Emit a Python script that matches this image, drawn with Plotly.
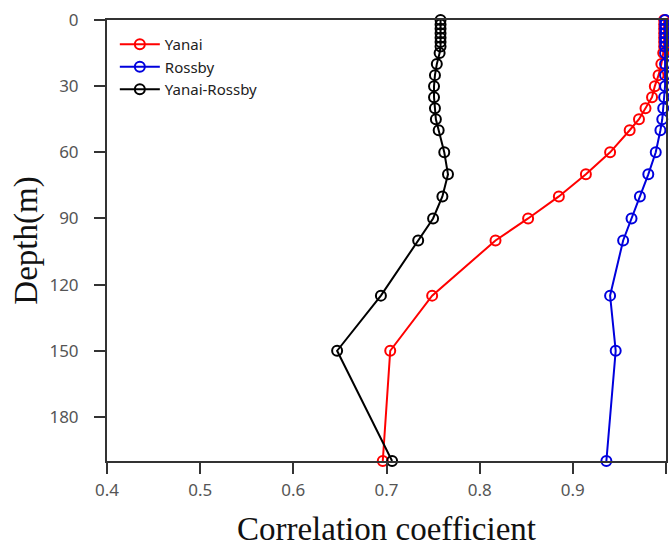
import plotly.graph_objects as go

depth = [0, 2, 4, 6, 8, 10, 12, 15, 20, 25, 30, 35, 40, 45, 50, 60, 70, 80, 90, 100, 125, 150, 200]
yanai = [0.998, 0.998, 0.998, 0.998, 0.998, 0.998, 0.998, 0.997, 0.995, 0.992, 0.988, 0.985, 0.978, 0.971, 0.961, 0.940, 0.914, 0.885, 0.852, 0.817, 0.749, 0.704, 0.696]
rossby = [0.999, 0.999, 0.999, 0.999, 0.999, 0.999, 0.999, 0.999, 0.999, 0.999, 0.999, 0.998, 0.997, 0.996, 0.994, 0.989, 0.981, 0.972, 0.963, 0.954, 0.940, 0.946, 0.936]
yanai_rossby = [0.758, 0.758, 0.758, 0.758, 0.758, 0.758, 0.758, 0.757, 0.754, 0.752, 0.751, 0.751, 0.752, 0.753, 0.756, 0.762, 0.766, 0.760, 0.750, 0.734, 0.694, 0.647, 0.706]

series = [("Yanai", yanai, "#ff0000"), ("Rossby", rossby, "#0000dd"), ("Yanai-Rossby", yanai_rossby, "#000000")]

x_ticks = [0.4, 0.5, 0.6, 0.7, 0.8, 0.9, 1.0]
x_ticktext = ["0.4", "0.5", "0.6", "0.7", "0.8", "0.9", "1"]
y_ticks = [0, 30, 60, 90, 120, 150, 180]

fig = go.Figure()
for name, vals, col in series:
    fig.add_trace(go.Scatter(
        x=vals, y=depth, name=name, mode="lines+markers",
        line=dict(color=col, width=2),
        marker=dict(symbol="circle-open", size=10, color=col, line=dict(width=2)),
        cliponaxis=False,
    ))

axis_common = dict(
    showline=True, linecolor="#333333", linewidth=2, mirror=True,
    ticks="outside", ticklen=11, tickwidth=2, tickcolor="#333333",
    showgrid=False, zeroline=False, automargin=False,
    tickfont=dict(family="Noto Sans", size=17, color="#555555"),
)

fig.update_layout(
    width=669, height=547,
    margin=dict(l=107, r=3, t=20, b=86),
    paper_bgcolor="white", plot_bgcolor="white",
    xaxis=dict(range=[0.4, 1.0], tickvals=x_ticks, ticktext=x_ticktext,
               ticklabelstandoff=2,
               title=dict(text="Correlation coefficient",
                          font=dict(family="Liberation Serif", size=33, color="#111111"),
                          standoff=20),
               **axis_common),
    yaxis=dict(range=[200, 0], tickvals=y_ticks,
               ticklabelstandoff=12,
               title=dict(text="Depth(m)",
                          font=dict(family="Liberation Serif", size=33, color="#111111"),
                          standoff=2),
               **axis_common),
    legend=dict(x=0.014, y=0.982, xanchor="left", yanchor="top",
                bgcolor="rgba(255,255,255,0)", borderwidth=0,
                font=dict(family="Noto Sans", size=15, color="#222222"),
                tracegroupgap=0, itemwidth=40),
    showlegend=True,
)

fig.write_html("out.html")
